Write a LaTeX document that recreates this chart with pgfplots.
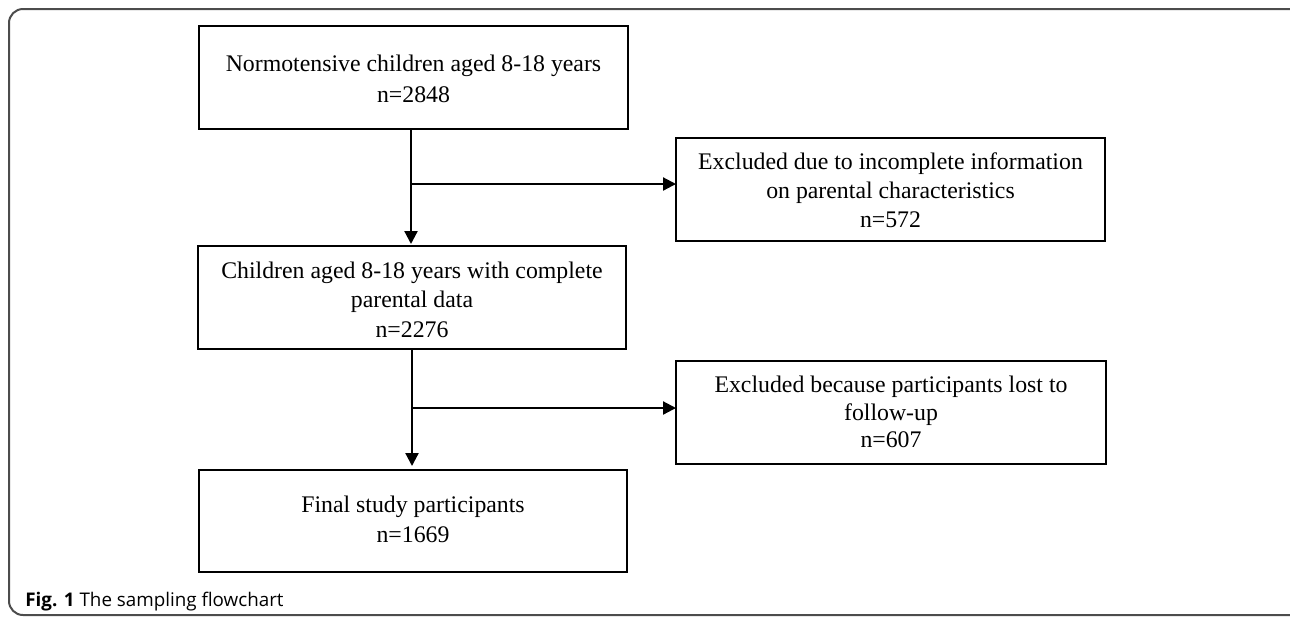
\documentclass[border=0pt]{standalone}
\usepackage{pgfplots}
\pgfplotsset{compat=1.18}
\usetikzlibrary{arrows.meta}
\usepackage{fontspec}
\setmainfont{Liberation Serif}
\newfontfamily\capfont{Open Sans}
\begin{document}
\begin{tikzpicture}
\begin{axis}[
  hide axis, scale only axis,
  width=645pt, height=309pt,
  xmin=0, xmax=1290, ymin=0, ymax=618, y dir=reverse,
  clip=true,
]
% outer frame
\addplot[color=black!70, line width=1pt, rounded corners=7pt] coordinates {(1300,9)(9,9)(9,615)(1300,615)};
% boxes
\addplot[black, line width=1.2pt, line join=miter] coordinates {(199,26)(628,26)(628,129)(199,129)(199,26)(628,26)};
\addplot[black, line width=1.2pt, line join=miter] coordinates {(676,138)(1105,138)(1105,241)(676,241)(676,138)(1105,138)};
\addplot[black, line width=1.2pt, line join=miter] coordinates {(198,246)(626,246)(626,349)(198,349)(198,246)(626,246)};
\addplot[black, line width=1.2pt, line join=miter] coordinates {(676,361)(1106,361)(1106,464)(676,464)(676,361)(1106,361)};
\addplot[black, line width=1.2pt, line join=miter] coordinates {(199,470)(627,470)(627,572)(199,572)(199,470)(627,470)};
% arrows
\addplot[black, line width=1.1pt, -{Triangle[length=6.5pt,width=6.5pt]}] coordinates {(411,129)(411,244)};
\addplot[black, line width=1.1pt, -{Triangle[length=6.5pt,width=6.5pt]}] coordinates {(411,184)(676,184)};
\addplot[black, line width=1.1pt, -{Triangle[length=6.5pt,width=6.5pt]}] coordinates {(412,349)(412,466)};
\addplot[black, line width=1.1pt, -{Triangle[length=6.5pt,width=6.5pt]}] coordinates {(412,408)(676,408)};
% texts
\begin{scope}[every node/.style={font=\fontsize{11.9pt}{15.5pt}\selectfont, anchor=base, inner sep=0pt}]
\node at (axis cs:413.5,71) {Normotensive children aged 8-18 years};
\node at (axis cs:413.5,102) {n=2848};
\node at (axis cs:890.5,169) {Excluded due to incomplete information};
\node at (axis cs:890.5,198) {on parental characteristics};
\node at (axis cs:890.5,227) {n=572};
\node at (axis cs:412,278) {Children aged 8-18 years with complete};
\node at (axis cs:412,307) {parental data};
\node at (axis cs:412,337) {n=2276};
\node at (axis cs:891,392) {Excluded because participants lost to};
\node at (axis cs:891,420) {follow-up};
\node at (axis cs:891,447) {n=607};
\node at (axis cs:413,512) {Final study participants};
\node at (axis cs:413,542) {n=1669};
\end{scope}
\node[anchor=base west, inner sep=0pt, font=\capfont\fontsize{9.4pt}{11pt}\selectfont] at (axis cs:25,606) {\textbf{Fig. 1} The sampling flowchart};
\end{axis}
\pgfresetboundingbox
\useasboundingbox (current axis.south west) rectangle (current axis.north east);
\end{tikzpicture}
\end{document}
